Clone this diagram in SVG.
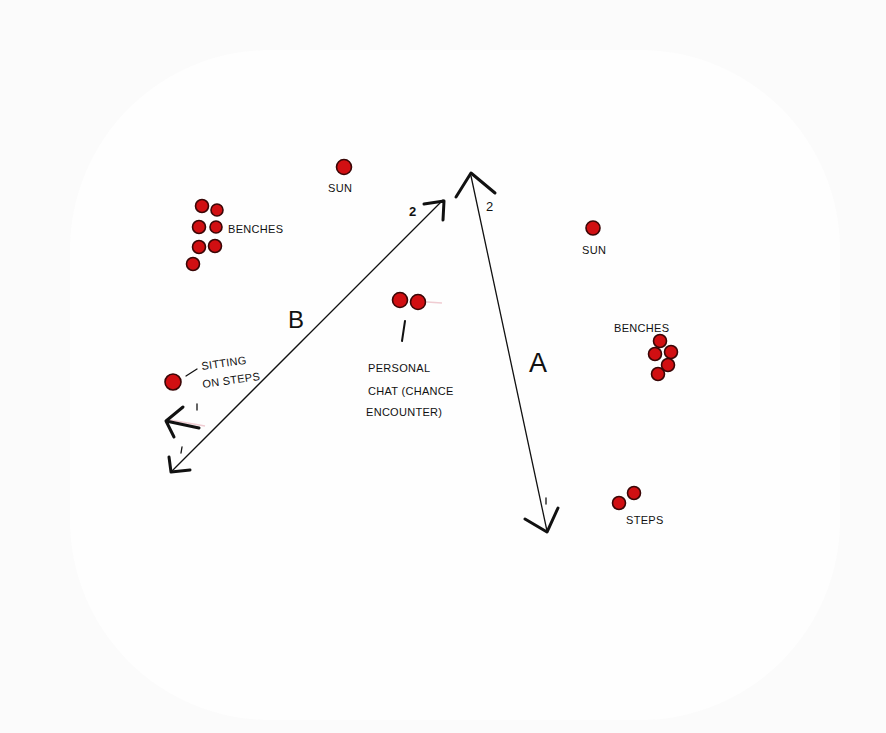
<svg xmlns="http://www.w3.org/2000/svg" width="886" height="733" viewBox="0 0 886 733">
<style>
.dot{fill:#d10f12;stroke:#3a0606;stroke-width:1.6}
.ink{stroke:#111;fill:none;stroke-linecap:round;stroke-linejoin:round}
.thin{stroke-width:1.3}
.head{stroke-width:3}
.lbl{font-family:"Liberation Sans",Arial,sans-serif;font-size:11px;fill:#111;letter-spacing:0.3px}
.big{font-family:"Liberation Sans",Arial,sans-serif;fill:#111}
.pink{stroke:#e9b6bf;stroke-width:1.5;fill:none;opacity:0.7}
</style>
<rect width="886" height="733" fill="#fbfbfb"/>
<rect x="70" y="50" width="770" height="670" rx="200" fill="#fefefe"/>

<g id="benches-left">
<circle class="dot" cx="202" cy="206" r="6.5"/>
<circle class="dot" cx="217" cy="210" r="6"/>
<circle class="dot" cx="199" cy="227" r="6.5"/>
<circle class="dot" cx="216" cy="227" r="6"/>
<circle class="dot" cx="199" cy="247" r="6.5"/>
<circle class="dot" cx="215" cy="246" r="6.5"/>
<circle class="dot" cx="193" cy="264" r="6.5"/>
<text class="lbl" x="228" y="233">BENCHES</text>
</g>

<g id="sun-left">
<circle class="dot" cx="344" cy="167" r="7.5"/>
<text class="lbl" x="328" y="192">SUN</text>
</g>

<g id="sitting">
<circle class="dot" cx="173" cy="382" r="8"/>
<path class="ink thin" d="M186 376 L197 369"/>
<text class="lbl" transform="translate(202,370) rotate(-8)">SITTING</text>
<text class="lbl" transform="translate(203,388) rotate(-8)">ON STEPS</text>
</g>

<g id="chat">
<circle class="dot" cx="400" cy="300" r="7.5"/>
<circle class="dot" cx="418" cy="302" r="7.5"/>
<path class="pink" d="M427 302 L442 303"/>
<path class="ink" stroke-width="2" d="M405 321 L402 341"/>
<text class="lbl" x="368" y="372">PERSONAL</text>
<text class="lbl" x="368" y="395">CHAT (CHANCE</text>
<text class="lbl" x="366" y="416">ENCOUNTER)</text>
</g>

<g id="sun-right">
<circle class="dot" cx="593" cy="228" r="7"/>
<text class="lbl" x="582" y="254">SUN</text>
</g>

<g id="benches-right">
<text class="lbl" x="614" y="332">BENCHES</text>
<circle class="dot" cx="660" cy="341" r="6.5"/>
<circle class="dot" cx="655" cy="354" r="6.5"/>
<circle class="dot" cx="671" cy="352" r="6.5"/>
<circle class="dot" cx="668" cy="365" r="6.5"/>
<circle class="dot" cx="658" cy="374" r="6.5"/>
</g>

<g id="steps">
<circle class="dot" cx="619" cy="503" r="6.5"/>
<circle class="dot" cx="634" cy="493" r="6.5"/>
<text class="lbl" x="626" y="524">STEPS</text>
</g>

<g id="connectors">
<!-- Arrow B -->
<path class="ink" stroke-width="1.3" d="M443 200 L172 471"/>
<path class="ink head" d="M424 204 L444 201 L443 220"/>
<path class="ink head" d="M169 457 L171 472 L190 470"/>
<text class="big" font-size="13" font-weight="bold" x="409" y="216">2</text>
<path class="ink thin" d="M182 447 L181 453"/>
<!-- left stray arrow -->
<path class="pink" d="M170 420 L205 426"/>
<path class="ink head" d="M183 407 L166 421 L199 428 M166 421 L174 437"/>
<path class="ink thin" d="M197 404 L197 410"/>
<text class="big" font-size="24" x="288" y="328">B</text>
<!-- Arrow A -->
<path class="ink" stroke-width="1.3" d="M471 176 L547 531"/>
<path class="ink head" d="M456 197 L471 173 L495 193"/>
<path class="ink head" d="M525 519 L547 532 L558 508"/>
<text class="big" font-size="13" x="486" y="211">2</text>
<path class="ink thin" d="M546 498 L546 504"/>
<text class="big" font-size="27" x="529" y="372">A</text>
</g>
</svg>
